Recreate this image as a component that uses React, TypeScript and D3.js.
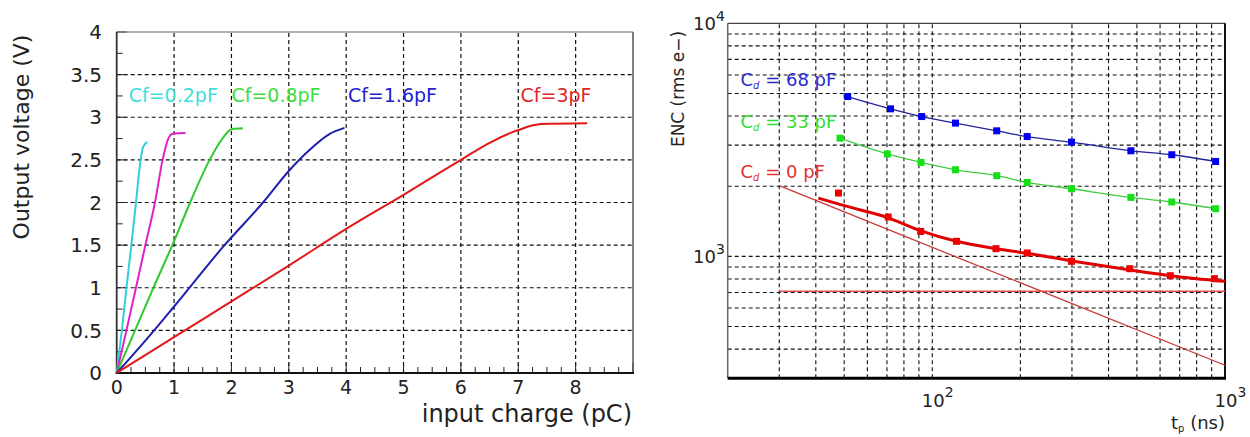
import React from 'react';
import * as d3 from 'd3';

// ---------- Left chart data: output voltage (V) vs input charge (pC) ----------
const chargeTicks = [0, 1, 2, 3, 4, 5, 6, 7, 8];
const voltageTicks = [0, 0.5, 1, 1.5, 2, 2.5, 3, 3.5, 4];
const voltageTickLabels = ['0', '0.5', '1', '1.5', '2', '2.5', '3', '3.5', '4'];

const cf02: [number, number][] = [[0, 0], [0.09, 0.5], [0.17, 1.0], [0.255, 1.5], [0.336, 2.0], [0.417, 2.5], [0.46, 2.65], [0.533, 2.71]];
const cf04: [number, number][] = [[0, 0], [0.17, 0.5], [0.336, 1.0], [0.5, 1.5], [0.667, 2.0], [0.8, 2.5], [0.9, 2.75], [0.985, 2.81], [1.2, 2.815]];
const cf08: [number, number][] = [[0, 0], [0.32, 0.5], [0.64, 1.0], [0.97, 1.5], [1.28, 2.0], [1.62, 2.5], [1.855, 2.76], [2.0, 2.86], [2.2, 2.87]];
const cf16: [number, number][] = [[0, 0], [0.5, 0.38], [1, 0.78], [1.88, 1.5], [2.55, 2.0], [3.0, 2.37], [3.35, 2.61], [3.7, 2.8], [3.97, 2.875]];
const cf3: [number, number][] = [[0, 0], [1, 0.42], [2, 0.84], [3, 1.26], [4, 1.69], [5, 2.09], [6, 2.5], [6.5, 2.7], [7, 2.85], [7.4, 2.92], [8.2, 2.93]];

const leftLabels = ['Cf=0.2pF', 'Cf=0.8pF', 'Cf=1.6pF', 'Cf=3pF'];

// ---------- Right chart data: ENC (rms e-) vs shaping time (ns) ----------
const tpDecades = [100, 1000];
const encDecades = [1000, 10000];
const tpGrid = [30, 40, 50, 60, 70, 80, 90, 100, 200, 300, 400, 500, 600, 700, 800, 900];
const encGrid = [400, 500, 600, 700, 800, 900, 1000, 2000, 3000, 4000, 5000, 6000, 7000, 8000, 9000];

const tp68 = [51.4, 72, 92, 120, 166, 211, 299, 477, 658, 929];
const enc68 = [4850, 4295, 3980, 3730, 3456, 3266, 3090, 2838, 2729, 2553];
const tp33 = [48.4, 70.2, 91.5, 120, 166, 211, 299, 477, 658, 929];
const enc33 = [3214, 2750, 2530, 2352, 2219, 2075, 1950, 1790, 1711, 1601];
const tp0 = [47.8, 70.7, 91.3, 121, 165, 211, 299, 473, 650, 920];
const enc0 = [1869, 1475, 1279, 1160, 1079, 1034, 952, 885, 826, 802];
const fit0Tp = [40.8, 50, 70, 91, 120, 165, 211, 300, 475, 660, 1000];
const fit0Enc = [1778, 1650, 1470, 1290, 1163, 1078, 1030, 955, 873, 824, 781];
const seriesNoiseTp = [30, 1000];
const seriesNoiseEnc = [2010, 341];
const flatNoiseTp = [30, 1000];
const flatNoiseEnc = [708, 708];

const rightLabels = ['68', '33', '0'];

// ---------- Layout ----------
const FONT = 'DejaVu Sans, Verdana, sans-serif';

const xL = d3.scaleLinear().domain([0, 9]).range([116.7, 633]);
const yL = d3.scaleLinear().domain([0, 4]).range([373, 32]);

const xR = d3.scaleLog().domain([20, 1000]).range([727.7, 1225]);
const yR = d3.scaleLog().domain([300, 10000]).range([378.2, 23.3]);

const leftLine = d3.line<[number, number]>().x(d => xL(d[0])).y(d => yL(d[1])).curve(d3.curveMonotoneX);
const rightLine = d3.line<[number, number]>().x(d => xR(d[0])).y(d => yR(d[1])).curve(d3.curveMonotoneX);

const zip = (a: number[], b: number[]): [number, number][] => a.map((v, i) => [v, b[i]]);

export default function App() {
  const leftSeries = [
    { data: cf02, color: '#30d0d8' },
    { data: cf04, color: '#e020c8' },
    { data: cf08, color: '#30c830' },
    { data: cf16, color: '#2020b0' },
    { data: cf3, color: '#e01818' },
  ];
  const leftLabelStyle = [
    { q: 0.21, color: '#40dde0' },
    { q: 2.0, color: '#40dd40' },
    { q: 4.03, color: '#2222cc' },
    { q: 7.04, color: '#e02828' },
  ];
  const minorV = d3.range(0, 4.001, 0.25);
  const minorQ = d3.range(0, 9.001, 0.25);

  const [x0L, x1L] = xL.range();
  const [y0L, y1L] = yL.range();
  const [x0R, x1R] = xR.range();
  const [y0R, y1R] = yR.range();

  const rightSeries = [
    { pts: zip(tp68, enc68), color: '#0000ee', line: '#22229a' },
    { pts: zip(tp33, enc33), color: '#18e018', line: '#40cc40' },
  ];
  const rightLabelStyle = [
    { y: 86, color: '#2a2acc' },
    { y: 128, color: '#33dd33' },
    { y: 178, color: '#e03030' },
  ];

  return (
    <svg width={1250} height={437} style={{ position: 'absolute', left: 0, top: 0, background: '#fff' }} fontFamily={FONT}>
      {/* ===== Left chart ===== */}
      <g>
        {chargeTicks.filter(t => t > 0).map(t => (
          <line key={'gv' + t} x1={xL(t)} x2={xL(t)} y1={y0L} y2={y1L} stroke="#111" strokeWidth={1.2} strokeDasharray="4,3" />
        ))}
        {voltageTicks.filter(t => t > 0 && t < 4).map(t => (
          <line key={'gh' + t} x1={x0L} x2={x1L} y1={yL(t)} y2={yL(t)} stroke="#111" strokeWidth={1.2} strokeDasharray="4,3" />
        ))}
        {minorV.map(v => (
          <line key={'mv' + v} x1={x0L} x2={x0L + (v % 0.5 === 0 ? 10 : 6)} y1={yL(v)} y2={yL(v)} stroke="#222" strokeWidth={1} />
        ))}
        {minorQ.map(q => (
          <line key={'mq' + q} x1={xL(q)} x2={xL(q)} y1={y0L} y2={y0L - (q % 1 === 0 ? 10 : 6)} stroke="#222" strokeWidth={1} />
        ))}
        {/* frame */}
        <line x1={x0L} x2={x1L} y1={y1L} y2={y1L} stroke="#666" strokeWidth={1.2} />
        <line x1={x1L} x2={x1L} y1={y1L} y2={y0L} stroke="#555" strokeWidth={1.5} />
        <line x1={x0L} x2={x0L} y1={y1L} y2={y0L} stroke="#333" strokeWidth={1.8} />
        <line x1={x0L - 1} x2={x1L + 1} y1={y0L} y2={y0L} stroke="#111" strokeWidth={2} />

        {leftSeries.map((s, i) => (
          <path key={'ls' + i} d={leftLine(s.data) || ''} fill="none" stroke={s.color} strokeWidth={2} strokeLinejoin="round" />
        ))}
        {leftLabels.map((t, i) => (
          <text key={'ll' + i} x={xL(leftLabelStyle[i].q)} y={101.5} fontSize={19} fill={leftLabelStyle[i].color}>{t}</text>
        ))}
        {voltageTicks.map((t, i) => (
          <text key={'yl' + t} x={102} y={yL(t)} dy="0.36em" textAnchor="end" fontSize={20} fill="#222">{voltageTickLabels[i]}</text>
        ))}
        {chargeTicks.map(t => (
          <text key={'xl' + t} x={xL(t)} y={393.5} textAnchor="middle" fontSize={19} fill="#222">{t}</text>
        ))}
        <text x={632} y={421.5} textAnchor="end" fontSize={24} fill="#222">input charge (pC)</text>
        <text transform="translate(29,137) rotate(-90)" textAnchor="middle" fontSize={22} fill="#222">Output voltage (V)</text>
      </g>

      {/* ===== Right chart ===== */}
      <g>
        {tpGrid.map(t => (
          <line key={'rgv' + t} x1={xR(t)} x2={xR(t)} y1={y0R} y2={y1R} stroke="#111" strokeWidth={1.1} strokeDasharray="4,3" />
        ))}
        {encGrid.map(e => (
          <line key={'rgh' + e} x1={x0R} x2={x1R} y1={yR(e)} y2={yR(e)} stroke="#111" strokeWidth={1.1} strokeDasharray="4,3" />
        ))}
        <line x1={x0R} x2={x1R} y1={y1R} y2={y1R} stroke="#444" strokeWidth={1.2} />
        <line x1={x0R} x2={x0R} y1={y1R} y2={y0R} stroke="#666" strokeWidth={1.5} />
        <line x1={x1R} x2={x1R} y1={y1R} y2={y0R} stroke="#111" strokeWidth={2} />
        <line x1={x0R} x2={x1R + 1} y1={y0R} y2={y0R} stroke="#000" strokeWidth={3} />

        {/* noise components for Cd = 0 */}
        <path d={rightLine(zip(seriesNoiseTp, seriesNoiseEnc)) || ''} fill="none" stroke="#c83a3a" strokeWidth={1.3} />
        <path d={rightLine(zip(flatNoiseTp, flatNoiseEnc)) || ''} fill="none" stroke="#e05050" strokeWidth={1.5} />
        <path d={rightLine(zip(fit0Tp, fit0Enc)) || ''} fill="none" stroke="#e00000" strokeWidth={3} />
        {zip(tp0, enc0).map((p, i) => (
          <rect key={'r0' + i} x={xR(p[0]) - 3.5} y={yR(p[1]) - 3.5} width={7} height={7} fill="#ee0000" />
        ))}

        {rightSeries.map((s, si) => (
          <g key={'rs' + si}>
            <path d={rightLine(s.pts) || ''} fill="none" stroke={s.line} strokeWidth={1.3} />
            {s.pts.map((p, i) => (
              <rect key={i} x={xR(p[0]) - 3.5} y={yR(p[1]) - 3.5} width={7} height={7} fill={s.color} />
            ))}
          </g>
        ))}

        {rightLabels.map((v, i) => (
          <text key={'rl' + i} x={740.5} y={rightLabelStyle[i].y} fontSize={18} fill={rightLabelStyle[i].color}>
            C<tspan fontSize={10} fontStyle="italic" dy={3}>d</tspan><tspan dy={-3}>{' = ' + v + ' pF'}</tspan>
          </text>
        ))}

        {encDecades.map(e => (
          <text key={'ey' + e} x={693} y={yR(e) + 6.5} fontSize={18} fill="#222">
            10<tspan fontSize={14} dy={-9}>{Math.round(Math.log10(e))}</tspan>
          </text>
        ))}
        {tpDecades.map(t => (
          <text key={'tx' + t} x={xR(t) - 10.5} y={406.5} fontSize={18} fill="#222">
            10<tspan fontSize={14} dy={-10}>{Math.round(Math.log10(t))}</tspan>
          </text>
        ))}
        <text x={1225} y={429} textAnchor="end" fontSize={18} fill="#222">
          t<tspan fontSize={10} dy={3}>p</tspan><tspan dy={-3}> (ns)</tspan>
        </text>
        <text transform="translate(684,89) rotate(-90)" textAnchor="middle" fontSize={17} fill="#222">ENC (rms e−)</text>
      </g>
    </svg>
  );
}
